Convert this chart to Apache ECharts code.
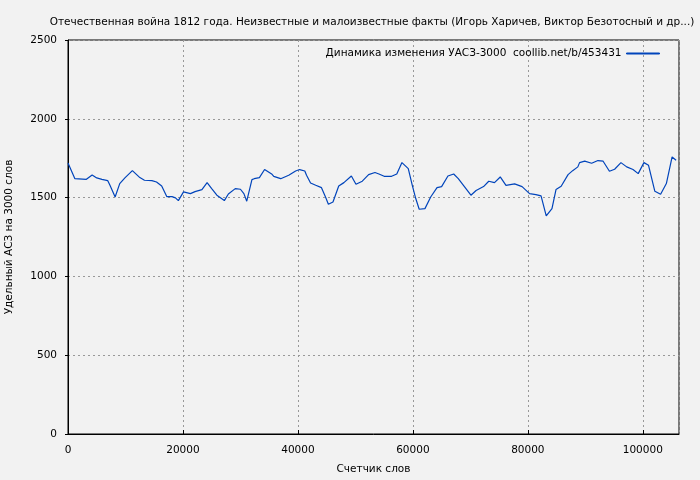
<!DOCTYPE html>
<html>
<head>
<meta charset="utf-8">
<script src="https://cdn.jsdelivr.net/npm/echarts@6/dist/echarts.min.js"></script>
<style>
html,body{margin:0;padding:0;background:#f2f2f2;}
#c{width:700px;height:480px;}
</style>
</head>
<body>
<div id="c"></div>
<script>
var titleText = 'Отечественная война 1812 года. Неизвестные и малоизвестные факты (Игорь Харичев, Виктор Безотосный и др...)';
var seriesName = 'Динамика изменения УАСЗ-3000  coollib.net/b/453431';
var xAxisName = 'Счетчик слов';
var yAxisName = 'Удельный АСЗ на 3000 слов';
var xTicks = [0, 20000, 40000, 60000, 80000, 100000];
var yTicks = [0, 500, 1000, 1500, 2000, 2500];
var xMax = 106300;

var words = [0,1200,3200,4200,5000,5900,6900,7300,8200,9000,9900,11200,12500,13300,14600,15400,16300,17200,18100,18700,19200,20100,21300,22100,23300,24200,25000,25900,27200,27900,29100,30000,30600,31100,32000,32400,33300,34200,35500,35800,37000,38400,39600,40300,41200,41500,42200,43100,44100,44800,45300,46100,47100,48000,49300,50100,51200,52300,53400,54100,55000,56300,57200,58100,59200,59900,60500,61100,62100,63100,64200,65000,66100,67100,67900,69000,70100,71000,72300,73200,74200,75200,76200,77700,79000,80300,81400,82300,83200,84200,84900,85800,87000,87800,88700,89000,89900,91100,92200,93100,94200,95100,96200,97200,98300,99200,100200,101000,102100,103100,104100,105100,105800];
var uasz = [1720,1620,1616,1644,1625,1616,1608,1578,1504,1589,1625,1671,1627,1610,1608,1599,1574,1506,1506,1498,1481,1536,1525,1538,1551,1595,1557,1515,1481,1523,1557,1553,1525,1477,1614,1620,1627,1678,1648,1635,1620,1642,1669,1678,1669,1642,1593,1578,1563,1504,1458,1472,1574,1595,1637,1585,1604,1646,1659,1650,1635,1635,1650,1722,1684,1578,1494,1426,1430,1504,1563,1570,1637,1650,1620,1568,1515,1545,1570,1604,1595,1631,1578,1587,1570,1525,1519,1511,1384,1430,1551,1572,1646,1671,1695,1722,1731,1718,1735,1731,1667,1680,1722,1695,1678,1652,1722,1705,1540,1521,1589,1758,1737];

var data = words.map(function(w,i){return [w, uasz[i]];});
var font = 'DejaVu Sans';
var fs = 10.5;
var lineColor = '#0044bb';
var chart = echarts.init(document.getElementById('c'), null, {renderer:'canvas'});
chart.setOption({
  backgroundColor:'#f2f2f2',
  animation:false,
  title:{text:titleText,left:367,textAlign:'center',top:12,textStyle:{fontFamily:font,fontSize:fs,fontWeight:'normal',color:'#000'}},
  legend:{
    right:35, top:43, align:'right', itemWidth:33, itemHeight:1, itemGap:0,
    textStyle:{fontFamily:font,fontSize:fs,color:'#000'},
    itemStyle:{color:lineColor,borderColor:lineColor,borderWidth:1},
    data:[{name:seriesName, icon:'rect'}]
  },
  grid:{left:68,right:21,top:40,bottom:46,show:true,borderColor:'#000',borderWidth:1,backgroundColor:'#f2f2f2',outerBoundsMode:'none',containLabel:false},
  xAxis:{
    type:'value', min:0, max:xMax, interval:20000,
    name:xAxisName, nameLocation:'middle', nameGap:30,
    nameTextStyle:{fontFamily:font,fontSize:fs,color:'#000'},
    axisLine:{lineStyle:{color:'#000'}},
    axisTick:{inside:true,length:4,lineStyle:{color:'#000'}},
    axisLabel:{fontFamily:font,fontSize:fs,color:'#000',margin:11,showMaxLabel:false,
      formatter:function(v){return xTicks.indexOf(v)>=0?String(v):'';}},
    splitLine:{show:true,lineStyle:{color:'#999',type:[2,3],width:1}}
  },
  yAxis:{
    type:'value', min:0, max:2500, interval:500,
    name:yAxisName, nameLocation:'middle', nameGap:53, nameRotate:90,
    nameTextStyle:{fontFamily:font,fontSize:fs,color:'#000'},
    axisLine:{show:true,lineStyle:{color:'#000'}},
    axisTick:{show:true,inside:false,length:3,lineStyle:{color:'#000'}},
    axisLabel:{fontFamily:font,fontSize:fs,color:'#000',margin:11,
      formatter:function(v){return yTicks.indexOf(v)>=0?String(v):'';}},
    splitLine:{show:true,lineStyle:{color:'#999',type:[2,3],width:1}}
  },
  series:[{
    name:seriesName, type:'line', data:data, symbol:'none',
    lineStyle:{color:lineColor,width:1.2}, itemStyle:{color:lineColor}
  }]
});
</script>
</body>
</html>
